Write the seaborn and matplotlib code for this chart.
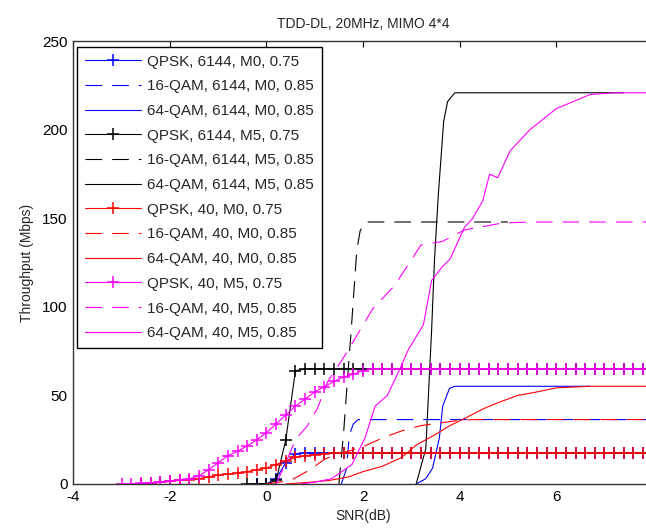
import numpy as np
import pandas as pd
import matplotlib
matplotlib.use("Agg")
import matplotlib.pyplot as plt
import seaborn as sns

sns.set_theme(style="white")
plt.rcParams["font.family"] = ["Liberation Sans", "DejaVu Sans"]
plt.rcParams["axes.unicode_minus"] = False

# SNR grid used by the QPSK curves (markers at every point)
SNR_FINE = np.round(np.arange(-3.0, 8.01, 0.2), 1)

# QPSK curves (values on SNR_FINE, starting at the given index)
qpsk_6144_m0 = [0, 0, 3, 12, 17, 17.5] + [17.5] * 36          # from -0.2 dB
qpsk_6144_m5 = [0, 0, 0, 2, 25, 64, 65] + [65] * 36           # from -0.4 dB
qpsk_40_m0 = [0, 0.5, 1, 1.5, 2, 2.5, 3, 4, 5, 5.5, 6, 7, 8, 9, 11, 13, 15, 16,
              16.5, 17, 17.5] + [17.5] * 33                   # from -2.6 dB
qpsk_40_m5 = [0, 0, 0.3, 0.6, 1, 1.5, 2.2, 3, 4.5, 8, 12, 16, 18.5, 21.5, 25, 29,
              34, 39, 44, 48, 52, 55, 58, 60.5, 62, 64, 65] + [65] * 29  # from -3.0 dB

# 16-QAM curves
snr_16_6144_m0 = [1.55, 1.65, 1.72, 1.8, 1.9, 8.0]
thr_16_6144_m0 = [0, 8, 28, 34, 36.4, 36.4]
snr_16_6144_m5 = [1.5, 1.6, 1.68, 1.75, 1.87, 1.94, 2.05, 5.0]
thr_16_6144_m5 = [0, 30, 60, 85, 132, 143, 148, 148]
snr_16_40_m0 = [0.0, 0.5, 0.9, 1.2, 1.5, 2.0, 2.4, 2.8, 3.2, 3.6, 4.0, 4.3, 8.0]
thr_16_40_m0 = [0, 2, 8, 14, 17, 21, 26, 30, 33, 34.5, 36, 36.4, 36.4]
snr_16_40_m5 = [0.2, 0.4, 0.6, 0.85, 1.06, 1.27, 1.54, 1.7, 2.2, 2.65, 3.2, 3.64,
                4.1, 4.9, 5.5, 8.0]
thr_16_40_m5 = [0, 12, 25, 33, 43, 58, 69, 76, 99, 112, 135, 137, 143.5, 147.5,
                148, 148]

# 64-QAM curves
snr_64_6144_m0 = [3.1, 3.3, 3.44, 3.58, 3.65, 3.79, 3.9, 6.7]
thr_64_6144_m0 = [0, 3, 9, 26, 44, 54, 55.2, 55.2]
snr_64_6144_m5 = [3.1, 3.3, 3.42, 3.48, 3.56, 3.67, 3.75, 3.9, 7.4]
thr_64_6144_m5 = [0, 20, 87, 127, 164, 205, 216, 221, 221]
snr_64_40_m0 = [0.4, 0.9, 1.3, 1.7, 2.0, 2.4, 2.8, 3.1, 3.5, 3.8, 4.1, 4.5, 4.8,
                5.2, 5.6, 6.0, 6.7, 8.0]
thr_64_40_m0 = [0, 1, 2, 4, 7, 10, 15, 22, 28, 33, 37, 42.6, 46, 50, 52, 54.3,
                55.2, 55.2]
snr_64_40_m5 = [0.7, 1.0, 1.35, 1.77, 2.04, 2.25, 2.5, 2.73, 2.94, 3.25, 3.42,
                3.65, 3.8, 4.1, 4.27, 4.48, 4.62, 4.79, 5.04, 5.45, 6.0, 6.7,
                7.2, 8.0]
thr_64_40_m5 = [0, 1, 3, 11, 26, 44, 50, 63, 76, 90, 115, 123, 127, 145, 150,
                160, 175, 173, 188, 200, 212, 220, 221, 221]

labels = [
    "QPSK, 6144, M0, 0.75", "16-QAM, 6144, M0, 0.85", "64-QAM, 6144, M0, 0.85",
    "QPSK, 6144, M5, 0.75", "16-QAM, 6144, M5, 0.85", "64-QAM, 6144, M5, 0.85",
    "QPSK, 40, M0, 0.75", "16-QAM, 40, M0, 0.85", "64-QAM, 40, M0, 0.85",
    "QPSK, 40, M5, 0.75", "16-QAM, 40, M5, 0.85", "64-QAM, 40, M5, 0.85",
]

BLUE, BLACK, RED, MAGENTA = "#0000ff", "#000000", "#ff0000", "#ff00ff"

series = [
    (SNR_FINE[14:], qpsk_6144_m0, BLUE, "qpsk"),
    (snr_16_6144_m0, thr_16_6144_m0, BLUE, "16"),
    (snr_64_6144_m0, thr_64_6144_m0, BLUE, "64"),
    (SNR_FINE[13:], qpsk_6144_m5, BLACK, "qpsk"),
    (snr_16_6144_m5, thr_16_6144_m5, BLACK, "16"),
    (snr_64_6144_m5, thr_64_6144_m5, BLACK, "64"),
    (SNR_FINE[2:], qpsk_40_m0, RED, "qpsk"),
    (snr_16_40_m0, thr_16_40_m0, RED, "16"),
    (snr_64_40_m0, thr_64_40_m0, RED, "64"),
    (SNR_FINE[0:], qpsk_40_m5, MAGENTA, "qpsk"),
    (snr_16_40_m5, thr_16_40_m5, MAGENTA, "16"),
    (snr_64_40_m5, thr_64_40_m5, MAGENTA, "64"),
]

fig = plt.figure(figsize=(6.46, 5.30), dpi=100)
ax = fig.add_axes([0.1135, 0.0868, 0.897, 0.835])

for (x, y, color, kind), label in zip(series, labels):
    kws = dict(x=list(x), y=list(y), ax=ax, color=color, lw=0.8, label=label,
               sort=False, estimator=None)
    if kind == "qpsk":
        kws.update(marker="+", markersize=8, markeredgewidth=1.1,
                   markeredgecolor=color)
    elif kind == "16":
        kws.update(dashes=(15, 9))
    sns.lineplot(**kws)

ax.set_xlim(-4, 8)
ax.set_ylim(0, 250)
ax.set_xticks([-4, -2, 0, 2, 4, 6, 8])
ax.set_yticks([0, 50, 100, 150, 200, 250])
ax.tick_params(direction="in", top=True, right=True, length=4, width=0.8,
               labelsize=11, colors="black", pad=4)
for sp in ax.spines.values():
    sp.set_color("#333333")
    sp.set_linewidth(1.0)

ax.set_title("TDD-DL, 20MHz, MIMO 4*4", fontsize=10, pad=10)
ax.set_xlabel("SNR(dB)", fontsize=10, labelpad=4)
ax.set_ylabel("Throughput (Mbps)", fontsize=10, labelpad=6)

leg = ax.legend(loc="upper left", bbox_to_anchor=(0.0064, 0.9876),
                borderaxespad=0, fontsize=11, frameon=True, fancybox=False,
                framealpha=1, edgecolor="black", handlelength=3.7,
                handletextpad=0.4, labelspacing=0.7, borderpad=0.5,
                numpoints=1)
leg.get_frame().set_linewidth(1.0)

fig.savefig("out.png", dpi=100)
